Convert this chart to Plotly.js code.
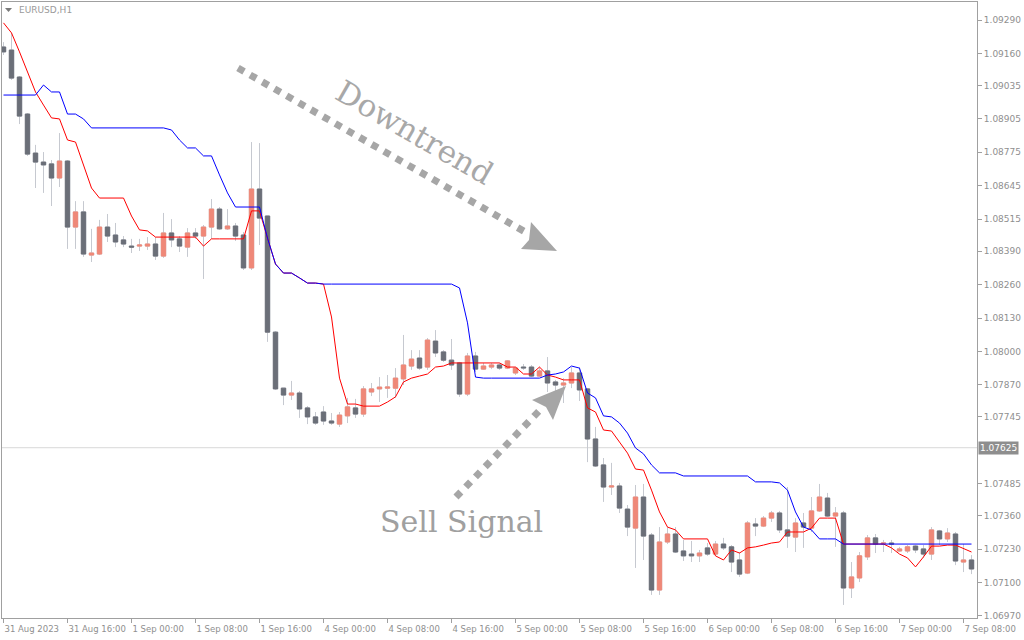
<!DOCTYPE html>
<html><head><meta charset="utf-8">
<script src="https://cdn.plot.ly/plotly-3.0.1.min.js"></script>
<style>html,body{margin:0;padding:0;background:#fff;}#chart{width:1024px;height:640px;}</style>
</head><body><div id="chart"></div>
<script>
// ---- data (EURUSD H1) ----
const timeLabels = ["31 Aug 2023","31 Aug 16:00","1 Sep 00:00","1 Sep 08:00","1 Sep 16:00","4 Sep 00:00","4 Sep 08:00","4 Sep 16:00",
  "5 Sep 00:00","5 Sep 08:00","5 Sep 16:00","6 Sep 00:00","6 Sep 08:00","6 Sep 16:00","7 Sep 00:00","7 Sep 08:00"];
const priceTicks = [1.09290,1.09160,1.09035,1.08905,1.08775,1.08645,1.08515,1.08390,1.08260,1.08130,1.08000,1.07870,1.07745,
  1.07485,1.07360,1.07230,1.07100,1.06970];
const currentPrice = 1.07625;
const symbolLabel = "EURUSD,H1";

const open = [
1.09185,1.09173,1.09068,1.08924,1.08772,1.08737,1.08730,1.08675,1.08741,1.08484,
1.08543,1.08375,1.08379,1.08484,1.08453,1.08434,1.08410,1.08410,1.08410,1.08418,
1.08371,1.08461,1.08438,1.08406,1.08461,1.08449,1.08484,1.08554,1.08477,1.08488,
1.08453,1.08325,1.08632,1.08527,1.08075,1.07857,1.07830,1.07838,1.07780,1.07745,
1.07764,1.07729,1.07717,1.07749,1.07780,1.07756,1.07842,1.07854,1.07857,1.07857,
1.07893,1.07943,1.07974,1.07939,1.08040,1.07998,1.07966,1.07955,1.07834,1.07982,
1.07931,1.07939,1.07947,1.07935,1.07916,1.07939,1.07939,1.07904,1.07924,1.07881,
1.07869,1.07877,1.07916,1.07854,1.07659,1.07558,1.07472,1.07476,1.07386,1.07312,
1.07433,1.07285,1.07071,1.07258,1.07289,1.07223,1.07211,1.07204,1.07235,1.07211,
1.07250,1.07239,1.07188,1.07137,1.07328,1.07320,1.07351,1.07371,1.07305,1.07277,
1.07332,1.07312,1.07379,1.07429,1.07359,1.07371,1.07079,1.07118,1.07200,1.07274,
1.07250,1.07254,1.07223,1.07223,1.07242,1.07231,1.07211,1.07301,1.07270,1.07289,
1.07180,1.07188];
const high = [
1.09204,1.09240,1.09072,1.08928,1.08804,1.08776,1.08745,1.08850,1.08745,1.08585,
1.08585,1.08477,1.08512,1.08535,1.08500,1.08449,1.08438,1.08438,1.08445,1.08445,
1.08539,1.08515,1.08449,1.08480,1.08480,1.08492,1.08593,1.08562,1.08554,1.08500,
1.08465,1.08815,1.08811,1.08527,1.08079,1.07857,1.07885,1.07846,1.07787,1.07764,
1.07787,1.07760,1.07764,1.07819,1.07815,1.07865,1.07877,1.07900,1.07908,1.07935,
1.08064,1.08005,1.08005,1.08052,1.08083,1.08005,1.08048,1.07959,1.07994,1.07998,
1.07955,1.07955,1.07955,1.07966,1.07939,1.07951,1.07947,1.07939,1.07978,1.07889,
1.07896,1.07939,1.07939,1.07857,1.07706,1.07585,1.07566,1.07488,1.07402,1.07480,
1.07484,1.07293,1.07316,1.07316,1.07316,1.07266,1.07262,1.07227,1.07254,1.07262,
1.07274,1.07246,1.07219,1.07340,1.07351,1.07359,1.07379,1.07379,1.07472,1.07351,
1.07371,1.07433,1.07484,1.07449,1.07394,1.07379,1.07180,1.07219,1.07285,1.07289,
1.07266,1.07266,1.07239,1.07246,1.07246,1.07246,1.07316,1.07305,1.07312,1.07297,
1.07250,1.07207];
const low = [
1.09154,1.09057,1.08885,1.08761,1.08636,1.08617,1.08566,1.08640,1.08399,1.08399,
1.08368,1.08348,1.08375,1.08426,1.08406,1.08406,1.08383,1.08391,1.08395,1.08356,
1.08364,1.08406,1.08387,1.08368,1.08438,1.08282,1.08438,1.08473,1.08473,1.08430,
1.08317,1.08317,1.08414,1.08037,1.07850,1.07791,1.07811,1.07741,1.07717,1.07714,
1.07714,1.07714,1.07706,1.07721,1.07741,1.07745,1.07826,1.07803,1.07819,1.07819,
1.07869,1.07928,1.07928,1.07928,1.07978,1.07959,1.07928,1.07823,1.07826,1.07920,
1.07928,1.07931,1.07928,1.07931,1.07908,1.07928,1.07900,1.07900,1.07842,1.07846,
1.07799,1.07857,1.07807,1.07569,1.07550,1.07414,1.07441,1.07371,1.07281,1.07157,
1.07188,1.07052,1.07052,1.07250,1.07215,1.07184,1.07180,1.07180,1.07204,1.07204,
1.07227,1.07141,1.07122,1.07133,1.07281,1.07316,1.07336,1.07293,1.07235,1.07219,
1.07235,1.07297,1.07375,1.07355,1.07239,1.07013,1.07040,1.07102,1.07188,1.07215,
1.07219,1.07215,1.07219,1.07215,1.07215,1.07196,1.07188,1.07246,1.07258,1.07168,
1.07141,1.07133];
const close = [
1.09166,1.09064,1.08916,1.08768,1.08737,1.08726,1.08675,1.08741,1.08484,1.08543,
1.08379,1.08383,1.08484,1.08449,1.08426,1.08418,1.08406,1.08414,1.08418,1.08371,
1.08461,1.08434,1.08410,1.08461,1.08449,1.08484,1.08554,1.08477,1.08488,1.08449,
1.08325,1.08632,1.08519,1.08075,1.07854,1.07830,1.07838,1.07776,1.07745,1.07721,
1.07729,1.07721,1.07752,1.07784,1.07756,1.07854,1.07854,1.07861,1.07861,1.07896,
1.07947,1.07970,1.07935,1.08044,1.07994,1.07966,1.07947,1.07834,1.07982,1.07931,
1.07943,1.07947,1.07935,1.07963,1.07935,1.07936,1.07904,1.07924,1.07877,1.07869,
1.07877,1.07916,1.07850,1.07659,1.07554,1.07472,1.07476,1.07390,1.07316,1.07433,
1.07281,1.07071,1.07258,1.07289,1.07219,1.07204,1.07204,1.07215,1.07211,1.07250,
1.07235,1.07180,1.07133,1.07332,1.07320,1.07351,1.07371,1.07305,1.07281,1.07332,
1.07316,1.07379,1.07433,1.07359,1.07371,1.07079,1.07122,1.07204,1.07274,1.07250,
1.07254,1.07250,1.07231,1.07239,1.07227,1.07211,1.07305,1.07270,1.07293,1.07184,
1.07188,1.07153];
const redLine = [
1.09279,1.09240,1.09166,1.09088,1.09010,1.08959,1.08909,1.08905,1.08823,1.08815,
1.08726,1.08636,1.08597,1.08597,1.08597,1.08597,1.08527,1.08473,1.08469,1.08445,
1.08445,1.08445,1.08445,1.08445,1.08445,1.08410,1.08438,1.08438,1.08438,1.08438,
1.08438,1.08547,1.08547,1.08441,1.08340,1.08305,1.08305,1.08286,1.08266,1.08266,
1.08262,1.08134,1.07896,1.07795,1.07795,1.07787,1.07787,1.07787,1.07803,1.07823,
1.07881,1.07896,1.07904,1.07912,1.07939,1.07943,1.07955,1.07955,1.07955,1.07955,
1.07955,1.07955,1.07955,1.07939,1.07939,1.07912,1.07912,1.07939,1.07908,1.07900,
1.07889,1.07889,1.07889,1.07780,1.07764,1.07694,1.07690,1.07647,1.07604,1.07542,
1.07538,1.07460,1.07375,1.07316,1.07305,1.07270,1.07270,1.07270,1.07270,1.07204,
1.07188,1.07227,1.07215,1.07235,1.07239,1.07246,1.07254,1.07258,1.07297,1.07297,
1.07297,1.07312,1.07351,1.07351,1.07351,1.07250,1.07250,1.07250,1.07250,1.07250,
1.07250,1.07235,1.07211,1.07196,1.07161,1.07200,1.07242,1.07242,1.07246,1.07246,
1.07231,1.07219];
const blueLine = [
1.08998,1.08998,1.08998,1.08998,1.08998,1.09037,1.09010,1.09010,1.08924,1.08924,
1.08905,1.08870,1.08870,1.08870,1.08870,1.08870,1.08870,1.08870,1.08870,1.08870,
1.08870,1.08862,1.08823,1.08792,1.08792,1.08761,1.08761,1.08687,1.08617,1.08562,
1.08562,1.08562,1.08562,1.08441,1.08340,1.08305,1.08305,1.08286,1.08266,1.08266,
1.08262,1.08262,1.08262,1.08262,1.08262,1.08262,1.08262,1.08262,1.08262,1.08262,
1.08262,1.08262,1.08262,1.08262,1.08262,1.08262,1.08262,1.08247,1.08111,1.07900,
1.07896,1.07896,1.07896,1.07896,1.07896,1.07896,1.07896,1.07896,1.07908,1.07912,
1.07920,1.07943,1.07935,1.07838,1.07819,1.07749,1.07745,1.07721,1.07682,1.07624,
1.07601,1.07558,1.07527,1.07527,1.07527,1.07515,1.07515,1.07515,1.07515,1.07515,
1.07515,1.07515,1.07515,1.07515,1.07492,1.07492,1.07492,1.07488,1.07460,1.07375,
1.07316,1.07305,1.07270,1.07270,1.07270,1.07250,1.07250,1.07250,1.07250,1.07250,
1.07250,1.07250,1.07250,1.07250,1.07250,1.07250,1.07250,1.07250,1.07250,1.07250,
1.07250,1.07250];

// ---- derived ----
const idx = open.map((_, i) => i);
const barsPerLabel = 8;
const tickIdx = timeLabels.map((_, i) => i * barsPerLabel);
const bodyHigh = open.map((o, i) => Math.max(o, close[i]));
const bodyLow = open.map((o, i) => Math.min(o, close[i]));

// ---- geometry helpers for decorations (pixel -> paper) ----
const W = 1024, H = 640, ML = 2, MR = 47, MT = 2, MB = 22;
const PW = W - ML - MR, PH = H - MT - MB;
const px = x => (x - ML) / PW;
const py = y => (H - MB - y) / PH;
const P = (x, y) => px(x).toFixed(5) + ',' + py(y).toFixed(5);

const grayMark = '#a6a6a6';
const wickColor = '#c6c9d0';
const upColor = '#ef8878';
const downColor = '#6b6f78';

const traces = [
  {type: 'candlestick', x: idx, open: open, high: high, low: low, close: close,
   increasing: {line: {color: wickColor, width: 1}, fillcolor: wickColor},
   decreasing: {line: {color: wickColor, width: 1}, fillcolor: wickColor},
   whiskerwidth: 0, hoverinfo: 'skip', showlegend: false},
  {type: 'candlestick', x: idx, open: open, high: bodyHigh, low: bodyLow, close: close,
   increasing: {line: {color: upColor, width: 1}, fillcolor: upColor},
   decreasing: {line: {color: downColor, width: 1}, fillcolor: downColor},
   whiskerwidth: 0, hoverinfo: 'skip', showlegend: false},
  {type: 'scatter', mode: 'lines', x: idx, y: redLine, line: {color: '#ff0000', width: 1}, hoverinfo: 'skip', showlegend: false},
  {type: 'scatter', mode: 'lines', x: idx, y: blueLine, line: {color: '#0000ff', width: 1}, hoverinfo: 'skip', showlegend: false}
];

const axisFont = {family: 'DejaVu Sans', size: 9, color: '#8f8f8f'};
const layout = {
  width: W, height: H,
  margin: {l: ML, r: MR, t: MT, b: MB, pad: 0},
  paper_bgcolor: '#ffffff', plot_bgcolor: '#ffffff',
  showlegend: false,
  boxgap: 0.22,
  xaxis: {
    range: [-0.1875, 121.6875], showgrid: false, zeroline: false,
    showline: true, mirror: true, linecolor: '#a0a0a0', linewidth: 1,
    ticks: 'outside', ticklen: 4, tickcolor: '#a0a0a0',
    tickmode: 'array', tickvals: tickIdx, ticktext: timeLabels, tickangle: 0,
    ticklabelposition: 'outside right', ticklabeloverflow: 'allow', ticklabelstandoff: 3,
    tickfont: {family: 'DejaVu Sans', size: 8.5, color: '#8f8f8f'},
    rangeslider: {visible: false}, fixedrange: true
  },
  yaxis: {
    side: 'right', range: [1.069621, 1.093602], showgrid: false, zeroline: false,
    showline: true, mirror: true, linecolor: '#a0a0a0', linewidth: 1,
    ticks: 'outside', ticklen: 4, tickcolor: '#a0a0a0',
    tickmode: 'array', tickvals: priceTicks, ticktext: priceTicks.map(v => v.toFixed(5)),
    tickfont: axisFont, fixedrange: true
  },
  shapes: [
    {type: 'line', xref: 'paper', yref: 'y', x0: 0, x1: 1, y0: currentPrice, y1: currentPrice,
     line: {color: '#d8d8d8', width: 1}, layer: 'below'},
    // Downtrend dotted arrow
    {type: 'line', xref: 'paper', yref: 'paper', x0: px(238), y0: py(68), x1: px(527), y1: py(233),
     line: {color: grayMark, width: 7, dash: 'dot'}},
    {type: 'path', xref: 'paper', yref: 'paper',
     path: 'M' + P(531, 222) + ' L' + P(557, 251) + ' L' + P(521, 249) + ' L' + P(529, 240) + ' Z',
     fillcolor: grayMark, line: {width: 0}},
    // Sell signal dotted arrow
    {type: 'line', xref: 'paper', yref: 'paper', x0: px(456), y0: py(497), x1: px(541), y1: py(409),
     line: {color: grayMark, width: 7, dash: 'dot'}},
    {type: 'path', xref: 'paper', yref: 'paper',
     path: 'M' + P(532, 400) + ' L' + P(566, 386) + ' L' + P(553, 420) + ' L' + P(546, 407) + ' Z',
     fillcolor: grayMark, line: {width: 0}},
    // symbol menu triangle
    {type: 'path', xref: 'paper', yref: 'paper',
     path: 'M' + P(5, 8) + ' L' + P(12, 8) + ' L' + P(8.5, 12) + ' Z',
     fillcolor: '#7a7a7a', line: {width: 0}}
  ],
  annotations: [
    {xref: 'paper', yref: 'y', x: 1, y: currentPrice, xanchor: 'left', yanchor: 'middle', xshift: 1,
     text: currentPrice.toFixed(5), showarrow: false, bgcolor: '#8e8e8e', borderpad: 1,
     font: {family: 'DejaVu Sans', size: 9, color: '#ffffff'}},
    {xref: 'paper', yref: 'paper', x: px(17), y: py(10), xanchor: 'left', yanchor: 'middle',
     text: symbolLabel, showarrow: false, font: {family: 'DejaVu Sans', size: 9, color: '#9a9a9a'}},
    {xref: 'paper', yref: 'paper', x: px(414), y: py(132), xanchor: 'center', yanchor: 'middle',
     text: 'Downtrend', textangle: 30, showarrow: false,
     font: {family: 'DejaVu Serif', size: 31, color: '#a8a8a8'}},
    {xref: 'paper', yref: 'paper', x: px(461), y: py(521), xanchor: 'center', yanchor: 'middle',
     text: 'Sell Signal', showarrow: false,
     font: {family: 'DejaVu Serif', size: 30, color: '#a0a0a0'}}
  ]
};

Plotly.newPlot('chart', traces, layout, {staticPlot: true, displayModeBar: false});
</script>
</body></html>
